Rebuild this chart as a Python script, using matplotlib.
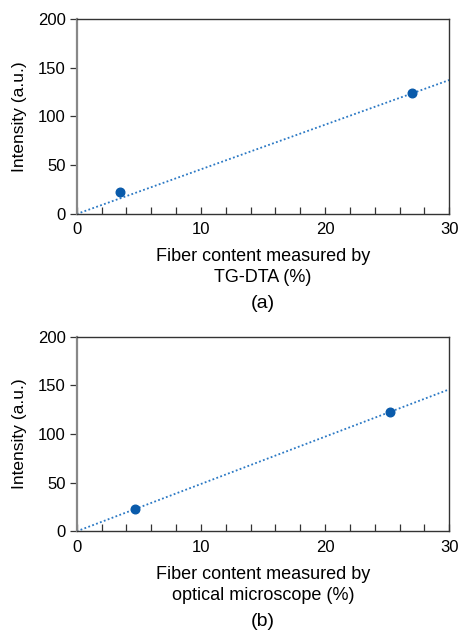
import matplotlib
matplotlib.use('Agg')
import matplotlib.pyplot as plt
from matplotlib.ticker import MultipleLocator

plt.rcParams['font.family'] = ['Liberation Sans', 'DejaVu Sans']

# panel (a): TG-DTA
tg_x = [3.5, 27.0]
tg_y = [22.6, 124.1]
tg_fit_x = [0, 30]
tg_fit_y = [0, 137.4]

# panel (b): optical microscope
om_x = [4.7, 25.2]
om_y = [22.6, 122.6]
om_fit_x = [0, 30]
om_fit_y = [0, 145.9]

X_TICKS = [0, 10, 20, 30]
Y_TICKS = [0, 50, 100, 150, 200]

POINT_COLOUR = '#0a5bab'
LINE_COLOUR = '#2a78c4'


def draw_panel(ax, xs, ys, fit_x, fit_y, xlabel):
    ax.plot(fit_x, fit_y, linestyle=(0, (1, 1.3)), color=LINE_COLOUR, linewidth=1.3)
    ax.plot(xs, ys, 'o', color=POINT_COLOUR, markersize=6.2, zorder=3)
    ax.set_xlim(0, 30)
    ax.set_ylim(0, 200)
    ax.set_xticks(X_TICKS)
    ax.set_yticks(Y_TICKS)
    ax.xaxis.set_minor_locator(MultipleLocator(2))
    ax.tick_params(axis='x', which='both', direction='in', length=5, width=0.9,
                   color='#333333', labelsize=12, pad=6)
    ax.tick_params(axis='y', direction='out', length=5, width=0.9,
                   color='#333333', labelsize=12, pad=3)
    for side in ['top', 'right', 'bottom']:
        ax.spines[side].set_color('#333333')
        ax.spines[side].set_linewidth(1.0)
    ax.spines['left'].set_color('#888888')
    ax.spines['left'].set_linewidth(1.6)
    ax.set_ylabel('Intensity (a.u.)', fontsize=12.5)
    ax.yaxis.set_label_coords(-0.133, 0.5)
    ax.set_xlabel(xlabel, fontsize=13, labelpad=8, linespacing=1.3)


fig = plt.figure(figsize=(4.6, 6.32), dpi=100)
ax_a = fig.add_axes([0.1667, 0.6614, 0.8101, 0.3086])
ax_b = fig.add_axes([0.1667, 0.1593, 0.8101, 0.3080])

draw_panel(ax_a, tg_x, tg_y, tg_fit_x, tg_fit_y, 'Fiber content measured by\nTG-DTA (%)')
draw_panel(ax_b, om_x, om_y, om_fit_x, om_fit_y, 'Fiber content measured by\noptical microscope (%)')

fig.text(0.5717, 1 - 303 / 632, '(a)', ha='center', va='center', fontsize=14)
fig.text(0.5717, 1 - 621 / 632, '(b)', ha='center', va='center', fontsize=14)

fig.savefig('out.png', dpi=100)
